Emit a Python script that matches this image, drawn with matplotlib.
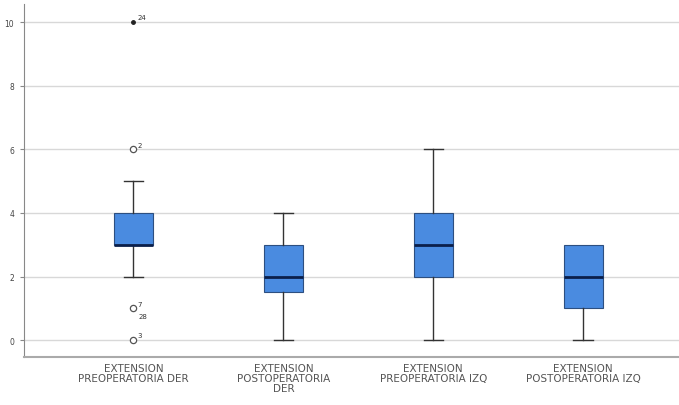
import matplotlib.pyplot as plt

labels = ["EXTENSION\nPREOPERATORIA DER", "EXTENSION\nPOSTOPERATORIA\nDER",
          "EXTENSION\nPREOPERATORIA IZQ", "EXTENSION\nPOSTOPERATORIA IZQ"]
whislo = [2, 0, 0, 0]
q1 = [3, 1.5, 2, 1]
med = [3, 2, 3, 2]
q3 = [4, 3, 4, 3]
whishi = [5, 4, 6, 3]
# outliers (circles) and extremes (dots) with case numbers
outliers = [(1, 6, "2"), (1, 1, "7"), (1, 0, "3")]
extremes = [(1, 10, "24")]
extra_labels = [(1, 1, "28")]

stats = []
for i in range(4):
    stats.append(dict(whislo=whislo[i], q1=q1[i], med=med[i], q3=q3[i],
                      whishi=whishi[i], fliers=[]))

fig = plt.figure(figsize=(6.79, 4.06), dpi=100)
ax = fig.add_axes([0.0353, 0.118, 0.965, 0.87])

bp = ax.bxp(stats, positions=[1, 2, 3, 4], widths=0.26, patch_artist=True,
            showfliers=False,
            boxprops=dict(facecolor="#4a8be0", edgecolor="#2d4f80", linewidth=0.8),
            medianprops=dict(color="#0b1f4a", linewidth=2),
            whiskerprops=dict(color="#333333", linewidth=1),
            capprops=dict(color="#333333", linewidth=1), capwidths=0.13)
# last box has no upper whisker, hide its cap
bp["caps"][7].set_visible(False)

for x, y, t in outliers:
    ax.plot(x, y, "o", mfc="white", mec="#555555", ms=4.5, mew=0.9)
    ax.annotate(t, (x, y), xytext=(3, 2), textcoords="offset points",
                fontsize=5, color="#333333")
for x, y, t in extremes:
    ax.plot(x, y, "o", color="#222222", ms=2.5)
    ax.annotate(t, (x, y), xytext=(3, 2), textcoords="offset points",
                fontsize=5, color="#333333")
for x, y, t in extra_labels:
    ax.annotate(t, (x, y), xytext=(4, -7), textcoords="offset points",
                fontsize=5, color="#333333")

ax.set_xlim(0.27, 4.64)
ax.set_ylim(-0.53, 10.57)
ax.set_yticks([0, 2, 4, 6, 8, 10])
ax.yaxis.grid(True, color="#d8d8d8", linewidth=1)
ax.set_axisbelow(True)
ax.set_xticks([1, 2, 3, 4])
ax.set_xticklabels(labels, fontsize=7.5, color="#555555", linespacing=1.0)
ax.tick_params(axis="x", length=0, pad=4)
ax.tick_params(axis="y", labelsize=5.5, labelcolor="#444444", length=3,
               color="#888888", pad=4)
for s in ["top", "right"]:
    ax.spines[s].set_visible(False)
ax.spines["left"].set_color("#888888")
ax.spines["bottom"].set_color("#aaaaaa")
ax.spines["bottom"].set_linewidth(1.5)

fig.savefig("out.png", dpi=100)
